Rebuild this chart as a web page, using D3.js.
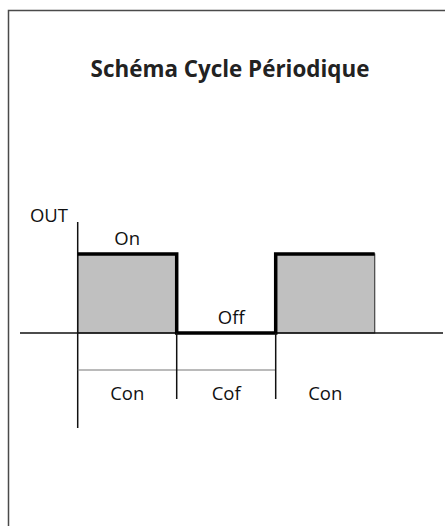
<!DOCTYPE html>
<html>
<head>
<meta charset="utf-8">
<script src="https://cdn.jsdelivr.net/npm/d3@7"></script>
<style>
  body { margin: 0; background: #fff; }
  svg { display: block; }
  .lbl { font-family: "Open Sans", sans-serif; font-size: 18.5px; fill: #111; }
</style>
</head>
<body>
<svg id="chart" width="445" height="526"></svg>
<script>
// cycle boundaries (in periods) and output state of each phase
const boundaries = [0, 1, 2, 3];
const states = [1, 0, 1];
const stateLabels = ["On", "Off", ""];
const phaseLabels = ["Con", "Cof", "Con"];

const svg = d3.select("#chart");

// frame
svg.append("rect")
  .attr("x", 8.5).attr("y", 10.5)
  .attr("width", 600).attr("height", 700)
  .attr("fill", "none")
  .attr("stroke", "#4a4a4a")
  .attr("stroke-width", 1.5);

var title = svg.append("text")
  .attr("x", 230).attr("y", 77)
  .attr("text-anchor", "middle")
  .style("font-family", "Open Sans, sans-serif")
  .style("font-weight", "bold")
  .style("font-size", "21px")
  .style("fill", "#222")
  .text("Schéma Cycle Périodique");
// fit title to the width it has in the original
var tw = title.node().getComputedTextLength();
title.style("font-size", (21 * 279 / tw) + "px");

var x = d3.scaleLinear().domain([0, 3]).range([77.7, 374.7]);
var y = d3.scaleLinear().domain([0, 1]).range([333, 254]);

var phases = states.map((s, i) => ({ x0: boundaries[i], x1: boundaries[i + 1], state: s, label: stateLabels[i], phase: phaseLabels[i] }));

// shaded "on" areas
svg.selectAll("rect.on")
  .data(phases.filter(d => d.state === 1))
  .enter().append("rect")
  .attr("class", "on")
  .attr("x", d => x(d.x0))
  .attr("y", y(1))
  .attr("width", d => x(d.x1) - x(d.x0))
  .attr("height", y(0) - y(1))
  .attr("fill", "#c0c0c0")
  .attr("stroke", "#444")
  .attr("stroke-width", 1.2);

// time axis
svg.append("line")
  .attr("x1", x(-0.583)).attr("x2", x(3.69))
  .attr("y1", y(0)).attr("y2", y(0))
  .attr("stroke", "#111").attr("stroke-width", 1.5);

// output axis
svg.append("line")
  .attr("x1", x(0)).attr("x2", x(0))
  .attr("y1", 222).attr("y2", 428)
  .attr("stroke", "#111").attr("stroke-width", 1.5);

// output signal (step)
var sig = [];
phases.forEach(d => { sig.push([d.x0, d.state]); sig.push([d.x1, d.state]); });
svg.append("path")
  .datum(sig)
  .attr("d", d3.line().x(d => x(d[0])).y(d => y(d[1])))
  .attr("fill", "none")
  .attr("stroke", "#000")
  .attr("stroke-width", 3.5)
  .attr("stroke-linejoin", "miter");

// phase duration bracket
svg.append("line")
  .attr("x1", x(0)).attr("x2", x(2))
  .attr("y1", 370).attr("y2", 370)
  .attr("stroke", "#777").attr("stroke-width", 1.2);

svg.selectAll("line.tick")
  .data(boundaries.slice(1, 3))
  .enter().append("line")
  .attr("class", "tick")
  .attr("x1", d => x(d)).attr("x2", d => x(d))
  .attr("y1", y(0)).attr("y2", 399)
  .attr("stroke", "#111").attr("stroke-width", 1.5);

svg.selectAll("text.state")
  .data(phases.filter(d => d.label))
  .enter().append("text")
  .attr("class", "lbl state")
  .attr("x", d => (x(d.x0) + x(d.x1)) / 2 + (d.state ? 0 : 5))
  .attr("y", d => y(d.state) - 9)
  .attr("text-anchor", "middle")
  .text(d => d.label);

svg.selectAll("text.phase")
  .data(phases)
  .enter().append("text")
  .attr("class", "lbl phase")
  .attr("x", d => (x(d.x0) + x(d.x1)) / 2)
  .attr("y", 400)
  .attr("text-anchor", "middle")
  .text(d => d.phase);

svg.append("text")
  .attr("class", "lbl")
  .attr("x", 49).attr("y", 222)
  .attr("text-anchor", "middle")
  .text("OUT");
</script>
</body>
</html>
